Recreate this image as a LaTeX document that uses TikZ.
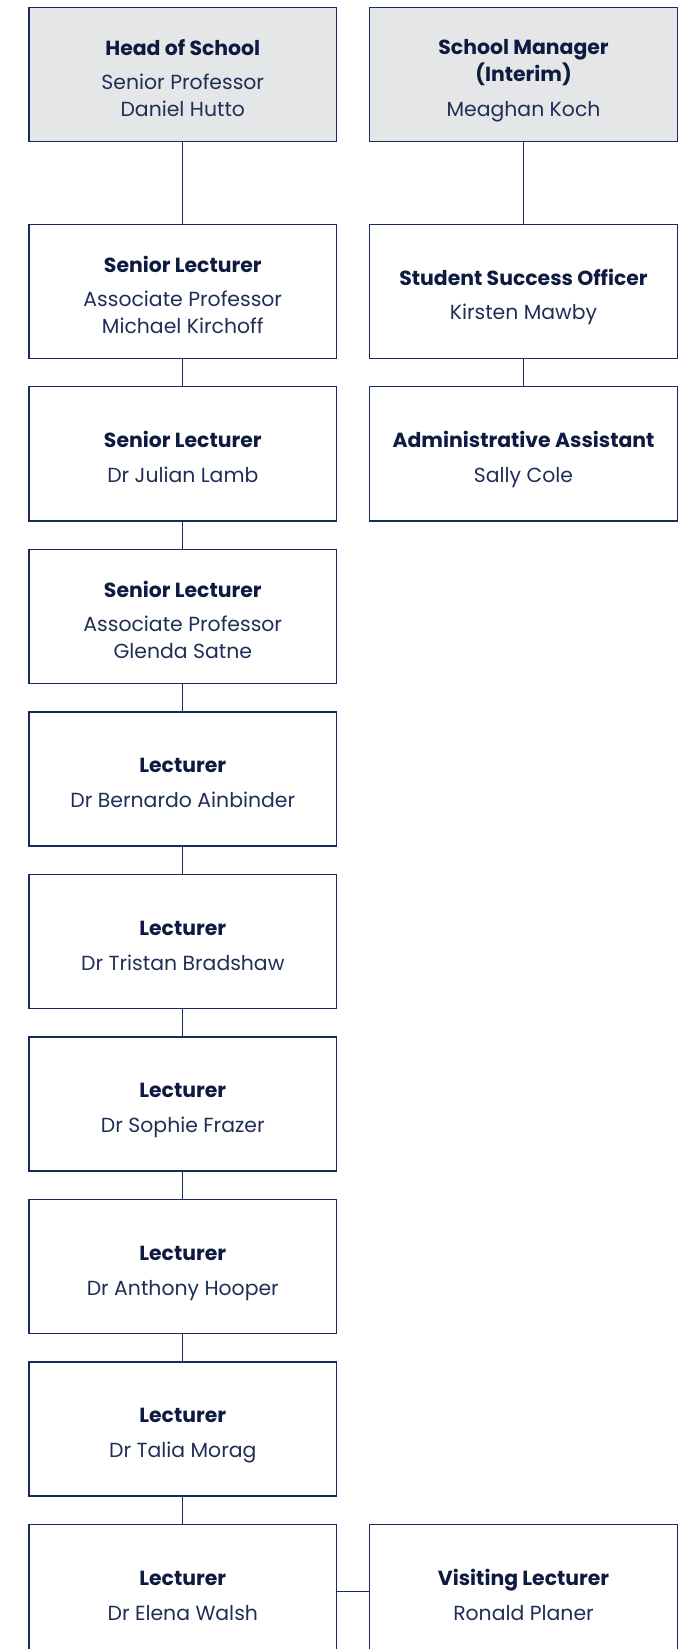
\documentclass[tikz,border=0pt]{standalone}
\usepackage{fontspec}
\setmainfont{Poppins}
\usepackage{xcolor}
\usetikzlibrary{positioning}

\definecolor{navy}{HTML}{1B2A5C}
\definecolor{ink}{HTML}{0E1A40}
\definecolor{nameink}{HTML}{1F2E55}
\definecolor{headfill}{HTML}{E5E6E8}

% fixed top and bottom struts so every box sets its text alike
\newcommand{\topstrut}{\rule{0pt}{20.8pt}}
\newcommand{\botstrut}{\rule[-4pt]{0pt}{4pt}}
% role title, followed by a small gap before the name
\newcommand{\role}[1]{\topstrut\textbf{\color{ink}#1}\\[6.3pt]}

\begin{document}
\begin{tikzpicture}[
  node distance=20.3pt and 23.8pt,
  every node/.style={draw=navy, line width=1pt, minimum width=230.75pt, minimum height=100.6pt, align=center, inner sep=0pt, text=nameink, font=\fontsize{15.3}{19.7}\selectfont, execute at end node=\botstrut},
  headbox/.style={fill=headfill},
  link/.style={draw=navy, line width=1pt}
]
\useasboundingbox (0,0) rectangle (517.5pt,-1236.75pt);

\node[headbox] (head) at (137.1pt,-55.9pt) {\role{Head of School}Senior Professor\\Daniel Hutto};
\node[headbox, right=of head] (mgr) {\topstrut\textbf{\color{ink}School Manager}\\[0.8pt]\textbf{\color{ink}(Interim)}\\[6.3pt]Meaghan Koch};

\node[below=61pt of head] (sl1) {\role{Senior Lecturer}Associate Professor\\Michael Kirchoff};
\node[below=of sl1] (sl2) {\role{Senior Lecturer}Dr Julian Lamb};
\node[below=of sl2] (sl3) {\role{Senior Lecturer}Associate Professor\\Glenda Satne};
\node[below=of sl3] (lec1) {\role{Lecturer}Dr Bernardo Ainbinder};
\node[below=of lec1] (lec2) {\role{Lecturer}Dr Tristan Bradshaw};
\node[below=of lec2] (lec3) {\role{Lecturer}Dr Sophie Frazer};
\node[below=of lec3] (lec4) {\role{Lecturer}Dr Anthony Hooper};
\node[below=of lec4] (lec5) {\role{Lecturer}Dr Talia Morag};
\node[below=of lec5] (lec6) {\role{Lecturer}Dr Elena Walsh};

\node[right=of sl1] (sso) {\role{Student Success Officer}Kirsten Mawby};
\node[right=of sl2] (admin) {\role{Administrative Assistant}Sally Cole};
\node[right=of lec6] (visit) {\role{Visiting Lecturer}Ronald Planer};

\draw[link] (head) -- (sl1);
\draw[link] (sl1) -- (sl2);
\draw[link] (sl2) -- (sl3);
\draw[link] (sl3) -- (lec1);
\draw[link] (lec1) -- (lec2);
\draw[link] (lec2) -- (lec3);
\draw[link] (lec3) -- (lec4);
\draw[link] (lec4) -- (lec5);
\draw[link] (lec5) -- (lec6);
\draw[link] (mgr) -- (sso);
\draw[link] (sso) -- (admin);
\draw[link] (lec6) -- (visit);
\end{tikzpicture}
\end{document}
